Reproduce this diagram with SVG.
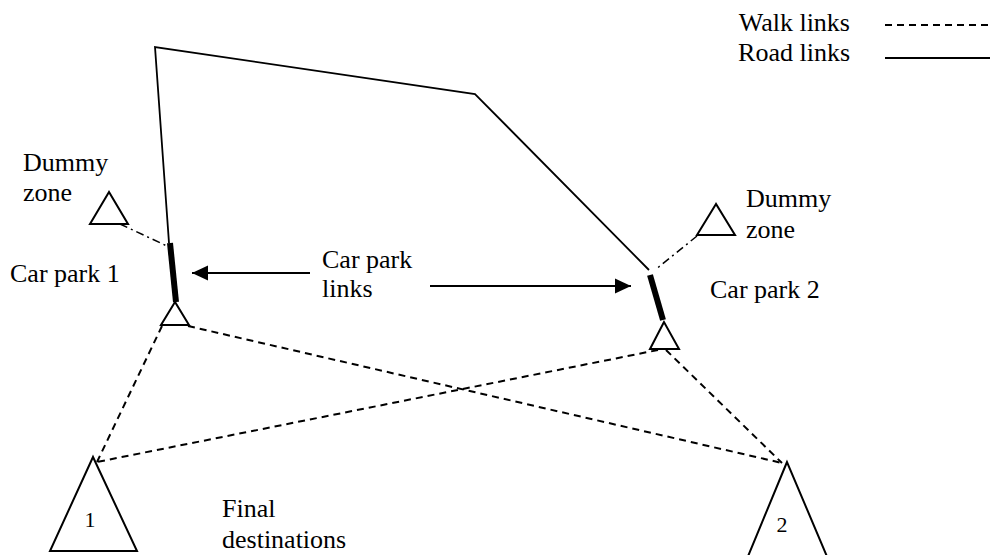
<svg xmlns="http://www.w3.org/2000/svg" width="990" height="555" viewBox="0 0 990 555">
<style>
text{font-family:"Liberation Serif","Times New Roman",serif;font-size:26px;fill:#000}
.road{fill:none;stroke:#000;stroke-width:1.8}
.walk{fill:none;stroke:#000;stroke-width:2;stroke-dasharray:7,5}
.dd{fill:none;stroke:#000;stroke-width:1.5;stroke-dasharray:8,4,2,4}
.cp{fill:none;stroke:#000;stroke-width:6}
.tri{fill:#fff;stroke:#000;stroke-width:2}
.arr{fill:none;stroke:#000;stroke-width:2}
</style>
<defs>
<marker id="ah" viewBox="0 0 16 16" refX="16" refY="8" markerWidth="16" markerHeight="16" markerUnits="userSpaceOnUse" orient="auto"><path d="M0,0.5 L16,8 L0,15.5 z" fill="#000"/></marker>
</defs>
<g id="legend">
<text x="850" y="31" text-anchor="end">Walk links</text>
<text x="850" y="61" text-anchor="end">Road links</text>
<line class="walk" x1="885" y1="25" x2="988" y2="25"/>
<line class="road" x1="885" y1="58" x2="990" y2="58"/>
</g>
<g id="connectors">
<polyline class="road" points="169,243 155,47 475,94 649,270"/>
<line class="cp" x1="170" y1="243" x2="176" y2="302"/>
<line class="cp" x1="650" y1="275" x2="663" y2="320"/>
<line class="dd" x1="120" y1="224" x2="167" y2="246"/>
<line class="dd" x1="697" y1="236" x2="655" y2="270"/>
<line class="walk" x1="162" y1="326" x2="97" y2="462"/>
<line class="walk" x1="188" y1="326" x2="782" y2="463"/>
<line class="walk" x1="658" y1="350" x2="97" y2="462"/>
<line class="walk" x1="666" y1="350" x2="782" y2="463"/>
<line class="arr" x1="310" y1="273" x2="192" y2="273" marker-end="url(#ah)"/>
<line class="arr" x1="430" y1="286" x2="631" y2="286" marker-end="url(#ah)"/>
</g>
<g id="dummy1">
<polygon class="tri" points="109,192 90,224 128,224"/>
<text x="23" y="171">Dummy</text>
<text x="23" y="201">zone</text>
</g>
<g id="carpark1">
<polygon class="tri" points="175,302 161,325 189,325"/>
<text x="10" y="282">Car park 1</text>
</g>
<g id="dummy2">
<polygon class="tri" points="716,204 697,235 735,235"/>
<text x="746" y="207">Dummy</text>
<text x="746" y="238">zone</text>
</g>
<g id="carpark2">
<polygon class="tri" points="664,322 650,349 679,349"/>
<text x="710" y="298">Car park 2</text>
</g>
<g id="cplinks">
<text x="322" y="268">Car park</text>
<text x="322" y="297">links</text>
</g>
<g id="dest1">
<polygon class="tri" points="93,457 50,551 137,551"/>
<text x="90" y="527" text-anchor="middle" style="font-size:22px">1</text>
</g>
<g id="dest2">
<polygon class="tri" points="787,462 744,566 831,566"/>
<text x="782" y="532" text-anchor="middle" style="font-size:22px">2</text>
</g>
<g id="finaldest">
<text x="222" y="517">Final</text>
<text x="222" y="548">destinations</text>
</g>
</svg>
